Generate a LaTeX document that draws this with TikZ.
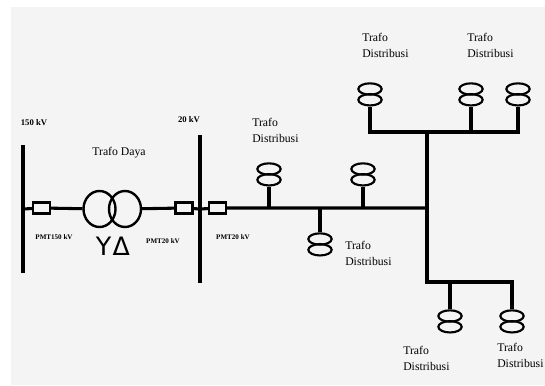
\documentclass[tikz,border=0pt]{standalone}
\usepackage{fontspec}
\setmainfont{Liberation Serif}
\newfontfamily\symfont{DejaVu Sans}
\usetikzlibrary{positioning, shapes.geometric}
\definecolor{paper}{HTML}{F4F4F4}

\begin{document}
\begin{tikzpicture}[x=0.75pt, y=-0.75pt,
    line/.style={line width=2.3pt},
    busbar/.style={fill=black, inner sep=0pt, minimum width=2.5pt},
    pmt/.style={draw, line width=1.8pt, inner sep=0pt, minimum width=12.5pt, minimum height=8pt},
    coil/.style={draw, ellipse, line width=1.8pt, inner sep=0pt, minimum width=24pt, minimum height=27pt},
    dcoil/.style={draw, ellipse, line width=1.6pt, inner sep=0pt, minimum width=17.5pt, minimum height=8.5pt},
    lbl/.style={font=\fontsize{8.8}{12}\selectfont, align=left, inner sep=0pt, anchor=west},
    kv/.style={font=\fontsize{6.5}{7}\selectfont\bfseries, inner sep=0pt},
    pmtlbl/.style={font=\fontsize{5.3}{6}\selectfont\bfseries, inner sep=0pt}
]
\useasboundingbox (0,0) rectangle (545,385);
\fill[paper] (11,7) rectangle (545,385);

% Busbars
\node[busbar, minimum height=96pt] (bus150) at (23,209) {};
\node[kv] (kv150) at (34,123) {150 kV};
\node[busbar, minimum height=111pt] (bus20) at (200,209) {};
\node[kv] (kv20) at (189,120) {20 kV};

% Trafo daya with breakers
\node[pmt] (pmt1) at (41.5,208) {};
\node[pmtlbl] (pmt1lbl) at (54,237) {PMT150 kV};
\node[coil] (td1) at (99.5,209) {};
\node[coil] (td2) at (125,209) {};
\node[font=\fontsize{8.8}{10}\selectfont] (tdlbl) at (119,153) {Trafo Daya};
\node[font=\symfont\fontsize{19}{19}\selectfont, inner sep=0pt] (tdvec) at (113,246) {Y\kern1ptΔ};
\node[pmt] (pmt2) at (184,208) {};
\node[pmtlbl] (pmt2lbl) at (163,241) {PMT20 kV};
\node[pmt] (pmt3) at (217.5,208) {};
\node[pmtlbl] (pmt3lbl) at (233,237) {PMT20 kV};

\coordinate (j1) at (427,208);
\coordinate (j2) at (427,132);
\coordinate (j3) at (427,282);

\draw[line] (bus150) -- (pmt1) -- (td1);
\draw[line] (td2) -- (pmt2) -- (bus20) -- (pmt3) -- (j1);

% Trafo distribusi
\node[dcoil] (dist1a) at (269,169) {};
\node[dcoil, below=-2pt of dist1a] (dist1b) {};
\node[dcoil] (dist2a) at (320,239) {};
\node[dcoil, below=-2pt of dist2a] (dist2b) {};
\node[dcoil] (dist3a) at (363,169) {};
\node[dcoil, below=-2pt of dist3a] (dist3b) {};
\node[dcoil] (dist4a) at (370,89) {};
\node[dcoil, below=-2pt of dist4a] (dist4b) {};
\node[dcoil] (dist5a) at (471,89) {};
\node[dcoil, below=-2pt of dist5a] (dist5b) {};
\node[dcoil] (dist6a) at (518,89) {};
\node[dcoil, below=-2pt of dist6a] (dist6b) {};
\node[dcoil] (dist7a) at (450,316) {};
\node[dcoil, below=-2pt of dist7a] (dist7b) {};
\node[dcoil] (dist8a) at (512,316) {};
\node[dcoil, below=-2pt of dist8a] (dist8b) {};

\node[lbl] (lbl1) at (252,130) {Trafo\\Distribusi};
\node[lbl] (lbl2) at (345,253) {Trafo\\Distribusi};
\node[lbl] (lbl4) at (362,45) {Trafo\\Distribusi};
\node[lbl] (lbl5) at (467,45) {Trafo\\Distribusi};
\node[lbl] (lbl7) at (403,358) {Trafo\\Distribusi};
\node[lbl] (lbl8) at (497,355) {Trafo\\Distribusi};

% Feeders
\draw[line] (dist1b.south) -- (dist1b.south |- j1);
\draw[line] (dist2a.north |- j1) -- (dist2a.north);
\draw[line] (dist3b.south) -- (dist3b.south |- j1);
\draw[line] (j2) -- (j3) -| (dist8a.north);
\draw[line] (dist7a.north |- j3) -- (dist7a.north);
\draw[line] (dist4b.south) |- (j2) -| (dist6b.south);
\draw[line] (dist5b.south) -- (dist5b.south |- j2);
\end{tikzpicture}
\end{document}
